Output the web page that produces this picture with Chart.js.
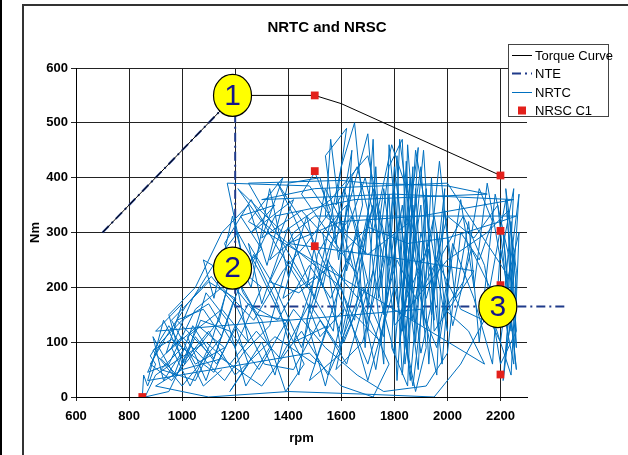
<!DOCTYPE html>
<html>
<head>
<meta charset="utf-8">
<script src="https://cdn.jsdelivr.net/npm/chart.js@4/dist/chart.umd.min.js"></script>
<style>
  html, body { margin: 0; padding: 0; background: #fff; }
  #wrap { width: 628px; height: 455px; }
</style>
</head>
<body>
<div id="wrap"><canvas id="nrtcChart" width="628" height="455"></canvas></div>
<script>
// === NRTC / NRSC chart ===

const chartTitle = 'NRTC and NRSC';

// full load torque curve
const torqueRpm = [700, 1200, 1500, 1600, 2200];
const torqueNm = [300, 550, 550, 535, 404];

// NTE zone boundary
const nteRpm = [700, 1200, 1200, 2450];
const nteNm = [300, 550, 165, 165];

// NRSC C1 steady state modes
const nrscRpm = [850, 1500, 1500, 1500, 2200, 2200, 2200, 2200];
const nrscNm = [0, 550, 412, 275, 404, 303, 204, 41];

// NRTC transient trace
const nrtcRpm = [
  850, 855, 870, 900, 880, 950, 1000, 920, 1050, 1100,
  980, 1080, 1150, 1000, 890, 960, 1120, 1200, 1250, 1180,
  1300, 1350, 1400, 1280, 1150, 1080, 1120, 1190, 1230, 1170,
  1480, 1600, 1700, 1750, 1800, 1850, 1870, 1820, 1900, 1930,
  1960, 2000, 1880, 1840, 1780, 1760, 1700, 1650, 1550, 1450,
  1350, 1250, 1300, 1400, 1500, 1600, 1650, 1680, 1620, 1560,
  1540, 1700, 1860, 1820, 1790, 1850, 1880, 1910, 1940, 1970,
  2050, 2100, 2150, 2200, 2250, 2230, 2260, 2210, 2240, 2190,
  2100, 2000, 1920, 1870, 1830, 1800, 1760, 1730, 1690, 1660,
  1500, 1350, 1200, 1100, 1000, 950, 1050, 1150, 1250, 1320,
  1400, 1520, 1580, 1640, 1600, 1720, 1780, 1810, 1840, 1900,
  1950, 1990, 1960, 1890, 1850, 1830, 1870, 1920, 1880, 1800,
  1700, 1600, 1450, 1300, 1210, 1380, 1560, 1700, 1760, 1800,
  2000, 2150, 2230, 2260, 2220, 2250, 2210, 2240, 2270, 2200,
  2150, 2050, 1950, 1700, 1400, 1100, 900, 1000, 1150, 1300,
  1450, 1550, 1650, 1750, 1820, 1860, 1890, 1850, 1810, 1780,
  1740, 1720, 1690, 1610, 1530, 1470, 1400, 1330, 1260, 1200,
  1140, 1060, 960, 880, 940, 1020, 1110, 1210, 1310, 1420,
  1520, 1620, 1720, 1800, 1860, 1830, 1900, 1940, 1990, 2030,
  2080, 2120, 2180, 2230, 2260, 2240, 2210, 2250, 2270, 2230,
  2000, 1500, 1300, 1800, 2250, 1900, 1600, 1400, 1850, 2100,
  1950, 1920, 1880, 1845, 1820, 1860, 1900, 1870, 1800, 1760,
  1680, 1590, 1480, 1370, 1280, 1180, 1090, 990, 900, 860,
  950, 1050, 1130, 1250, 1360, 1480, 1560, 1640, 1700, 1780,
  1830, 1850, 1890, 1920, 1950, 1910, 1880, 1840, 1870, 1930,
  1980, 2010, 1970, 1940, 1820, 1760, 1700, 1640, 1590, 1540,
  1620, 1580, 1660, 1720, 1790, 1860, 1910, 1960, 2050, 2180,
  2240, 2260, 2220, 2250, 2200, 2170, 2100, 2020, 1960, 1900,
  900, 1000, 940, 1060, 1160, 1050, 960, 1100, 1200, 1090,
  1020, 1150, 1250, 1200, 1300, 1220, 1350, 1260, 1420, 1330,
  1450, 1380, 1500, 1420, 1550, 1480, 1600, 1530, 1620, 1570,
  1250, 1600, 1700, 2000, 2150, 1650, 1350, 1250, 1150, 1300,
  1200, 1100, 1000, 920, 870, 950, 1050, 1150, 1270, 1380,
  1470, 1560, 1500, 1450, 1550, 1650, 1720, 1640, 1580, 1680,
  1760, 1690, 1620, 1540, 1470, 1400, 1330, 1230, 1160, 1080,
  1000, 920, 980, 1070, 1180, 1290, 1420, 1540, 1660, 1760,
  1920, 2000, 2050, 2120, 2170, 2120, 2060, 1990, 2080, 2140,
  1250, 1380, 1300, 1450, 1600, 1700, 1850, 2000, 2200, 2260,
  1500, 1420, 1330, 1440, 1560, 1680, 1780, 1720, 1600, 1480,
  870, 930, 1010, 1090, 1170, 1240, 1330, 1260, 1190, 1110,
  1030, 960, 1040, 1130, 1210, 1290, 1370, 1460, 1390, 1300,
  1230, 1160, 1260, 1350, 1440, 1520, 1610, 1540, 1470, 1560,
  1640, 1700, 1610, 1510, 1420, 1360, 1480, 1580, 1700, 1810,
  1880, 1950, 2020, 2090, 2160, 2220, 2260, 2200, 2140, 2060,
  1980, 1900, 1830, 1780, 1730, 1660, 1590, 1510, 1440, 1360,
  1270, 1190, 1120, 1040, 970, 890, 930, 1010, 1080, 1150
];
const nrtcNm = [
  0, 40, 20, 60, 75, 130, 90, 50, 30, 80,
  140, 160, 110, 20, 85, 105, 45, 130, 60, 10,
  100, 40, 140, 150, 230, 250, 180, 330, 250, 390,
  385, 300, 480, 200, 380, 80, 420, 100, 350, 60,
  300, 120, 450, 150, 460, 60, 330, 140, 250, 90,
  200, 280, 170, 310, 180, 420, 500, 350, 230, 470,
  330, 260, 320, 470, 90, 20, 380, 130, 400, 100,
  360, 200, 390, 250, 380, 180, 50, 300, 120, 350,
  290, 330, 180, 260, 40, 300, 150, 420, 90, 300,
  60, 110, 40, 120, 60, 150, 200, 300, 350, 240,
  390, 400, 280, 450, 110, 380, 240, 440, 60, 300,
  200, 380, 40, 200, 460, 120, 350, 90, 10, 200,
  30, 200, 260, 320, 380, 300, 360, 440, 300, 130,
  250, 300, 340, 200, 80, 260, 30, 150, 370, 100,
  150, 60, 0, 5, 10, 0, 20, 50, 70, 20,
  120, 40, 150, 100, 330, 200, 455, 310, 30, 370,
  180, 470, 260, 380, 200, 330, 220, 380, 200, 260,
  140, 90, 30, 60, 110, 170, 220, 160, 60, 50,
  140, 60, 230, 80, 400, 180, 420, 150, 340, 180,
  320, 100, 370, 260, 90, 320, 160, 60, 300, 220,
  390, 380, 360, 370, 360, 330, 320, 280, 250, 230,
  120, 380, 100, 430, 210, 30, 250, 140, 420, 110,
  200, 90, 170, 70, 120, 60, 100, 70, 40, 0,
  10, 110, 60, 170, 140, 240, 180, 270, 120, 420,
  470, 200, 50, 360, 140, 450, 300, 100, 20, 270,
  60, 240, 430, 290, 150, 380, 160, 400, 250, 440,
  490, 350, 420, 300, 460, 360, 200, 250, 160, 130,
  40, 230, 380, 140, 270, 60, 180, 280, 90, 160,
  120, 170, 80, 130, 90, 60, 140, 210, 180, 30,
  110, 160, 100, 220, 270, 330, 350, 300, 360, 250,
  300, 180, 220, 100, 130, 30, 80, 300, 350, 120,
  390, 395, 390, 385, 370, 360, 330, 230, 260, 200,
  90, 170, 140, 100, 45, 60, 160, 200, 140, 230,
  280, 340, 410, 370, 300, 230, 350, 180, 50, 100,
  250, 400, 300, 380, 200, 250, 130, 80, 30, 70,
  110, 70, 40, 140, 120, 50, 160, 90, 40, 10,
  20, 80, 300, 250, 320, 380, 210, 160, 120, 60,
  320, 400, 290, 340, 260, 310, 280, 290, 320, 330,
  330, 300, 210, 190, 240, 170, 60, 0, 20, 80,
  30, 140, 60, 190, 140, 20, 90, 170, 230, 100,
  20, 90, 180, 250, 300, 230, 150, 60, 10, 140,
  190, 280, 360, 280, 210, 110, 160, 20, 140, 280,
  330, 210, 100, 230, 330, 390, 300, 200, 60, 250,
  180, 330, 130, 270, 200, 360, 120, 60, 240, 330,
  260, 80, 350, 200, 50, 210, 330, 260, 40, 170,
  260, 170, 70, 130, 40, 110, 30, 90, 20, 50
];

// numbered call-outs
const markerRpm = [1190, 1190, 2190];
const markerNm = [550, 235, 165];
const markerLabels = ['1', '2', '3'];

const xTicks = { min: 600, max: 2300, step: 200 };
const yTicks = { min: 0, max: 600, step: 100 };

const FONT = '"Liberation Sans", Arial, sans-serif';

function pairs(xs, ys) {
    const n = Math.min(xs.length, ys.length);
    const out = [];
    for (let i = 0; i < n; i++) out.push({ x: xs[i], y: ys[i] });
    return out;
}

// white page, outer frame lines and the title
const framePlugin = {
    id: 'frame',
    beforeDraw(chart) {
        const c = chart.ctx;
        c.save();
        c.fillStyle = '#fff';
        c.fillRect(0, 0, chart.width, chart.height);
        c.fillStyle = '#000';
        c.fillRect(0, 0, 2, chart.height);
        c.fillStyle = '#333';
        c.fillRect(22, 4, chart.width - 22, 2);
        c.fillRect(22, 4, 2, chart.height - 4);
        c.fillStyle = '#000';
        c.font = 'bold 15px ' + FONT;
        c.textAlign = 'center';
        c.textBaseline = 'middle';
        c.fillText(chartTitle, 327, 28);
        c.restore();
    }
};

// yellow numbered ellipses
const markerPlugin = {
    id: 'markers',
    afterDatasetsDraw(chart) {
        const c = chart.ctx, xs = chart.scales.x, ys = chart.scales.y;
        c.save();
        markerLabels.forEach((txt, i) => {
            const px = xs.getPixelForValue(markerRpm[i]);
            const py = ys.getPixelForValue(markerNm[i]);
            c.beginPath();
            c.ellipse(px, py, 19, 21, 0, 0, Math.PI * 2);
            c.fillStyle = '#ffff00';
            c.fill();
            c.lineWidth = 1.2;
            c.strokeStyle = '#000';
            c.stroke();
            c.fillStyle = '#14148c';
            c.font = '30px ' + FONT;
            c.textAlign = 'center';
            c.textBaseline = 'middle';
            c.fillText(txt, px, py + 1);
        });
        c.restore();
    }
};

// legend box sitting over the top right of the plot
const legendPlugin = {
    id: 'boxLegend',
    afterDraw(chart) {
        const c = chart.ctx;
        c.save();
        c.fillStyle = '#fff';
        c.fillRect(508, 44, 100, 72);
        c.strokeStyle = '#444';
        c.lineWidth = 1;
        c.strokeRect(508.5, 44.5, 100, 72);
        c.font = '13px ' + FONT;
        c.textAlign = 'left';
        c.textBaseline = 'middle';
        chart.data.datasets.forEach((ds, i) => {
            const y = Math.round(55 + i * 18.3) + 0.5;
            if (ds.showLine === false) {
                c.fillStyle = ds.backgroundColor;
                c.fillRect(518, y - 4, 8, 8);
            } else {
                c.beginPath();
                c.setLineDash(ds.borderDash || []);
                c.strokeStyle = ds.borderColor;
                c.lineWidth = ds.borderWidth;
                c.moveTo(512, y);
                c.lineTo(532, y);
                c.stroke();
                c.setLineDash([]);
            }
            c.fillStyle = '#000';
            c.fillText(ds.label, 535, y + 1);
        });
        c.restore();
    }
};

const ctx = document.getElementById('nrtcChart');

new Chart(ctx, {
    type: 'scatter',
    data: {
        datasets: [
            { label: 'Torque Curve', data: pairs(torqueRpm, torqueNm), showLine: true, borderColor: '#000', borderWidth: 1, pointRadius: 0, order: 1 },
            { label: 'NTE', data: pairs(nteRpm, nteNm), showLine: true, borderColor: '#1f3a8a', borderWidth: 2, borderDash: [9, 4, 2, 4], pointRadius: 0, clip: false, order: 3 },
            { label: 'NRTC', data: pairs(nrtcRpm, nrtcNm), showLine: true, borderColor: '#0070c0', borderWidth: 1, pointRadius: 0, order: 2 },
            { label: 'NRSC C1', data: pairs(nrscRpm, nrscNm), showLine: false, pointStyle: 'rect', pointRadius: 5.5, backgroundColor: '#e3201b', borderColor: '#e3201b', borderWidth: 0, order: 0 }
        ]
    },
    options: {
        responsive: false,
        animation: false,
        events: [],
        layout: { padding: { left: 20, right: 101, top: 68, bottom: 0 } },
        plugins: {
            legend: { display: false },
            tooltip: { enabled: false },
            title: { display: false }
        },
        scales: {
            x: {
                type: 'linear', min: xTicks.min, max: xTicks.max,
                afterFit: s => { s.height = 58; },
                ticks: { stepSize: xTicks.step, includeBounds: false, maxRotation: 0, color: '#000', padding: 8, font: { family: FONT, size: 13, weight: 'bold' }, callback: v => String(v) },
                grid: { color: '#222', tickLength: 4 },
                border: { color: '#000' },
                title: { display: true, text: 'rpm', color: '#000', font: { family: FONT, size: 13, weight: 'bold' }, padding: { top: 0, bottom: 9 } }
            },
            y: {
                type: 'linear', min: yTicks.min, max: yTicks.max,
                afterFit: s => { s.width = 56; },
                ticks: { stepSize: yTicks.step, color: '#000', padding: 3, font: { family: FONT, size: 13, weight: 'bold' }, callback: v => String(v) },
                grid: { color: '#222', tickLength: 5 },
                border: { color: '#000' },
                title: { display: true, text: 'Nm', color: '#000', font: { family: FONT, size: 13, weight: 'bold' }, padding: { top: 8, bottom: 0 } }
            }
        }
    },
    plugins: [framePlugin, markerPlugin, legendPlugin]
});
</script>
</body>
</html>
